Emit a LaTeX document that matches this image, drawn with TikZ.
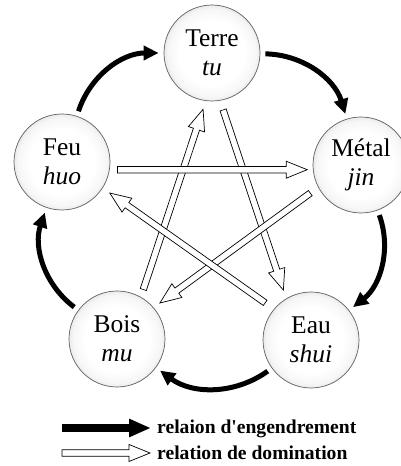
\documentclass[tikz,border=0pt]{standalone}
\usepackage{fontspec}
\setmainfont{Liberation Serif}
\usetikzlibrary{arrows.meta,calc,positioning}
\pgfdeclareradialshading{sphere}{\pgfpoint{0bp}{0bp}}{color(0bp)=(white); color(17bp)=(white); color(23bp)=(gray!7); color(25bp)=(gray!16); color(50bp)=(gray!16)}
\tikzset{
  elem/.style={circle, draw=gray!75!black, line width=0.7pt, shading=sphere, minimum size=96pt,
               inner sep=0pt, align=center, font=\fontsize{25.5}{29}\selectfont},
  genarr/.style={line width=5pt, -{Triangle[length=15pt,width=14pt]}, shorten <=5pt, shorten >=5pt},
  domarr/.style={draw=black, fill=white, line width=0.7pt, line join=miter},
  legtext/.style={anchor=base west, inner sep=0pt, font=\fontsize{19.6}{22}\selectfont\bfseries}
}
\newcommand\domarrow[3][domarr]{%
  \path[#1] ($(#2)!3.2pt!90:(#3)$)
    -- ($(#3)!21pt!(#2)!3.2pt!-90:(#2)$)
    -- ($(#3)!21pt!(#2)!8.5pt!-90:(#2)$)
    -- (#3)
    -- ($(#3)!21pt!(#2)!8.5pt!90:(#2)$)
    -- ($(#3)!21pt!(#2)!3.2pt!90:(#2)$)
    -- ($(#2)!3.2pt!-90:(#3)$) -- cycle;}

\begin{document}
\begin{tikzpicture}[x=1pt, y=1pt]
\useasboundingbox (0,0) rectangle (401,466);
\node[elem] (terre) at (212,413) {Terre\\\textit{tu}};
\node[elem] (metal) at (361,301) {Métal\\\textit{jin}};
\node[elem] (eau)   at (311,126) {Eau\\\textit{shui}};
\node[elem] (bois)  at (117,127) {Bois\\\textit{mu}};
\node[elem] (feu)   at (62,304)  {Feu\\\textit{huo}};
% engendrement
\draw[genarr] (terre) to[bend left=36] (metal);
\draw[genarr] (metal) to[bend left=36] (eau);
\draw[genarr] (eau) to[bend left=36] (bois);
\draw[genarr] (bois) to[bend left=36] (feu);
\draw[genarr] (feu) to[bend left=36] (terre);
% domination
\coordinate (bt0) at ($(bois)+(62:56)$);
\coordinate (bt1) at ($(terre)+(261:57)$);
\coordinate (te0) at ($(terre)+(281:58)$);
\coordinate (te1) at ($(eau)+(119:57)$);
\coordinate (mb0) at ($(metal)+(209:58)$);
\coordinate (mb1) at ($(bois)+(40:56)$);
\coordinate (ef0) at ($(eau)+(141:59)$);
\coordinate (ef1) at ($(feu)+(-33:57)$);
\coordinate (fm0) at ($(feu)+(-8:56)$);
\coordinate (fm1) at ($(metal)+(185:54)$);
\domarrow{bt0}{bt1}
\domarrow{te0}{te1}
\domarrow{mb0}{mb1}
\domarrow{ef0}{ef1}
\domarrow{fm0}{fm1}
% legende
\coordinate (g0) at (62,38);
\coordinate (g1) at (151,38);
\coordinate (d0) at (62,13);
\coordinate (d1) at (150,13);
\draw[line width=8.5pt, -{Triangle[length=22pt,width=17pt]}] (g0) -- (g1);
\domarrow{d0}{d1}
\node[legtext] (gtxt) at (157,32) {relaion d\textquotesingle engendrement};
\node[legtext] (dtxt) at (157,6) {relation de domination};
\end{tikzpicture}
\end{document}
